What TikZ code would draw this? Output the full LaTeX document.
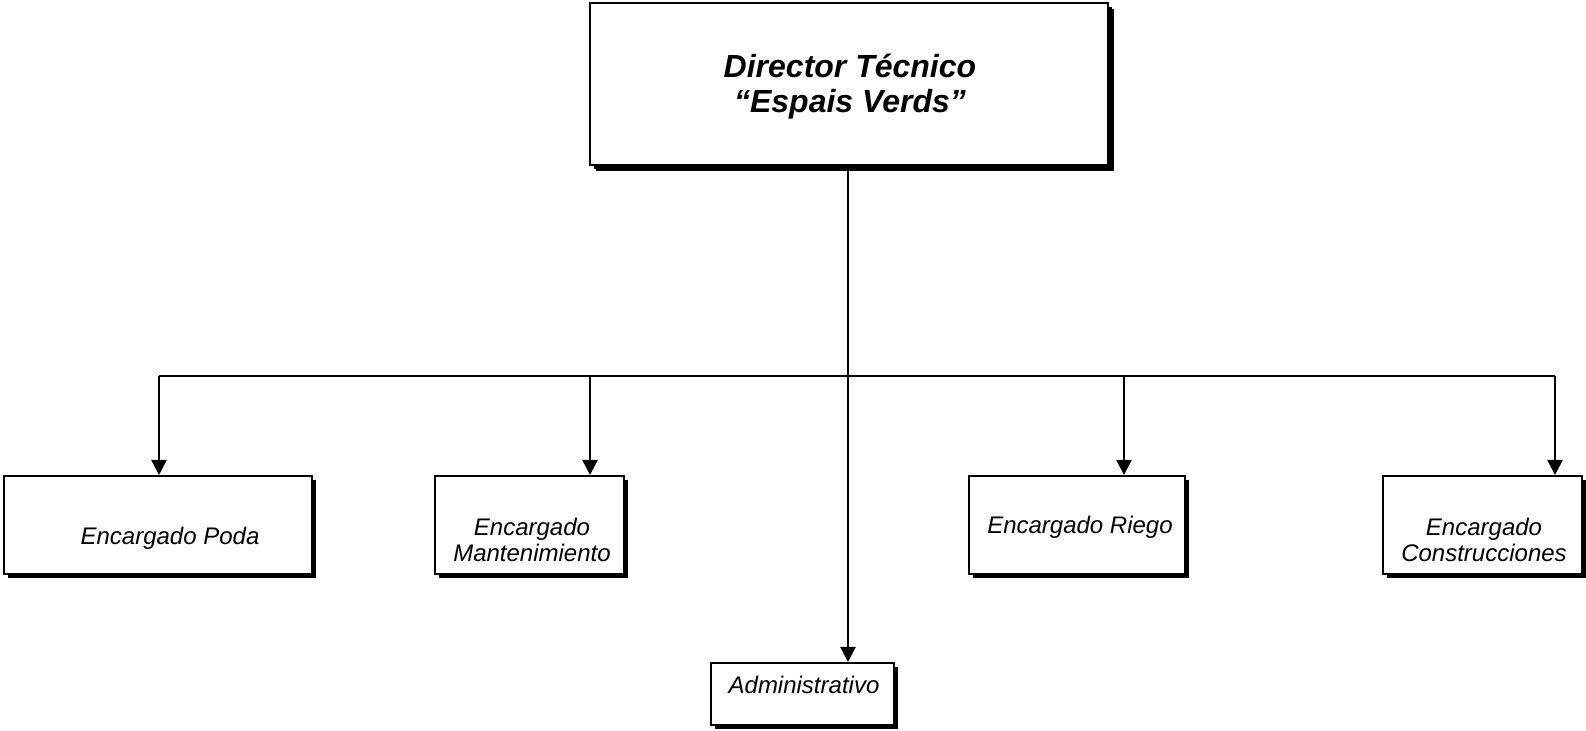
\documentclass[tikz,border=0pt]{standalone}
\usepackage{fontspec}
\setmainfont{Liberation Sans}
\usetikzlibrary{arrows.meta,positioning,shadows}

\begin{document}
\begin{tikzpicture}[x=0.5pt,y=-0.5pt,
  every node/.style={font=\fontsize{12}{13.2}\selectfont\itshape},
  box/.style={draw=black,line width=1pt,fill=white,inner sep=0pt,minimum height=49pt,
    drop shadow={shadow xshift=2pt,shadow yshift=-2pt,opacity=1,fill=black}},
  bigbox/.style={box,minimum width=259pt,minimum height=81pt,
    drop shadow={shadow xshift=3pt,shadow yshift=-3pt,opacity=1,fill=black}},
  lbl/.style={align=center,inner sep=0pt},
  ln/.style={line width=0.6pt},
  ar/.style={line width=1.3pt,-{Triangle[length=7.5pt,width=7.5pt]}}]
\useasboundingbox (0,0) rectangle (1586,731);
% boxes
\node[bigbox] (dir) at (849,84) {};
\node[lbl,font=\fontsize{16}{17.5}\selectfont\bfseries\itshape] (dirt) at (850,87) {Director Técnico\\“Espais Verds”};
\node[box,minimum width=154pt] (poda) at (158,525) {};
\node[box,minimum width=94.5pt] (mant) at (529.5,525) {};
\node[box,minimum width=108pt] (riego) at (1077,525) {};
\node[box,minimum width=99.5pt] (cons) at (1482.5,525) {};
\node[box,minimum width=91.5pt,minimum height=31pt] (adm) at (802.5,694) {};
% texts
\node[lbl] (podat) at (170,538) {Encargado Poda};
\node[lbl] (mantt) at (532,540) {Encargado\\Mantenimiento};
\node[lbl] (riegot) at (1080,527) {Encargado Riego};
\node[lbl] (const) at (1484,540) {Encargado\\Construcciones};
\node[lbl] (admt) at (804,685) {Administrativo};
% connectors
\coordinate (j1) at (159,376);
\coordinate (j2) at (590,376);
\coordinate (j3) at (848,376);
\coordinate (j4) at (1124,376);
\coordinate (j5) at (1555,376);
\draw[ln] (dir.south -| j3) -- (j3);
\draw[ar] (j3) -- (adm.north -| j3);
\draw[ln] (j1) -- (j5);
\foreach \j/\b in {j1/poda,j2/mant,j4/riego,j5/cons}
  \draw[ar] (\j) -- (\j |- \b.north);
\end{tikzpicture}
\end{document}
